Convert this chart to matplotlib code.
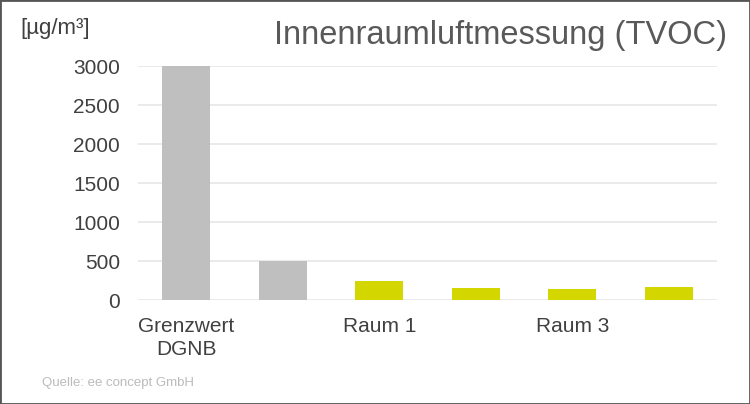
import matplotlib.pyplot as plt
from matplotlib.patches import Rectangle

plt.rcParams['font.family'] = ['Liberation Sans', 'DejaVu Sans']

categories = ["Grenzwert\nDGNB", "Zielwert", "Raum 1", "Raum 2", "Raum 3", "Raum 4"]
values = [3000, 500, 240, 150, 135, 170]
bar_colors = ["#BFBFBF", "#BFBFBF", "#D4D600", "#D4D600", "#D4D600", "#D4D600"]
shown_labels = ["Grenzwert\nDGNB", "", "Raum 1", "", "Raum 3", ""]
yticks = [0, 500, 1000, 1500, 2000, 2500, 3000]

fig = plt.figure(figsize=(7.5, 4.04), dpi=100)
ax = fig.add_axes([0.184, 0.2574, 0.772, 0.5792])

x = range(len(categories))
ax.bar(x, values, width=0.5, color=bar_colors, zorder=2)

ax.set_xlim(-0.5, len(categories) - 0.5)
ax.set_ylim(0, 3000)
ax.set_yticks(yticks)
ax.set_yticklabels([str(v) for v in yticks])
ax.set_xticks(list(x))
ax.set_xticklabels(shown_labels, linespacing=1.3)
ax.tick_params(axis='y', length=0, pad=13, labelsize=15, labelcolor='#404040')
ax.tick_params(axis='x', length=0, pad=12, labelsize=15, labelcolor='#404040')
ax.yaxis.grid(True, color='#E6E6E6', linewidth=1.2, zorder=0)
for s in ax.spines.values():
    s.set_visible(False)

fig.text(0.969, 0.912, "Innenraumluftmessung (TVOC)", ha='right', va='center',
         fontsize=23.5, color='#595959')
fig.text(0.027, 0.93, "[µg/m³]", ha='left', va='center', fontsize=16,
         color='#404040')
fig.text(0.056, 0.052, "Quelle: ee concept GmbH", ha='left', va='center',
         fontsize=9.5, color='#BBBBBB')

fig.patches.append(Rectangle((0, 0), 1, 1, transform=fig.transFigure,
                             fill=False, edgecolor='#555555', linewidth=2))

fig.savefig("out.png", dpi=100)
